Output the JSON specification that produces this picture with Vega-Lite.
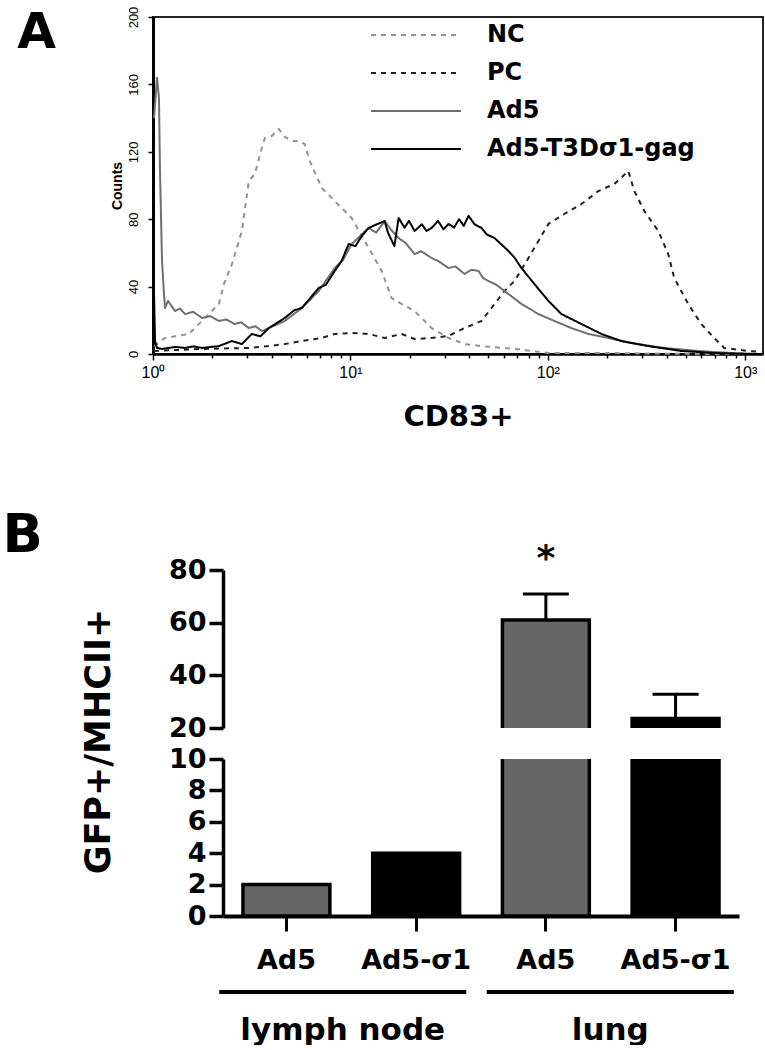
{
  "$schema": "https://vega.github.io/schema/vega-lite/v6.json",
  "padding": {"left": 2, "top": 5, "right": 0, "bottom": 0},
  "bounds": "flush",
  "spacing": 31,
  "config": {
    "view": {"stroke": null},
    "axis": {"grid": false, "domainColor": "#000", "tickColor": "#000", "labelColor": "#000", "titleColor": "#000"}
  },
  "datasets": {
    "hist": [
      {"s":"NC","x":1.012,"y":4.7},{"s":"NC","x":1.15,"y":9.5},{"s":"NC","x":1.521,"y":11.9},{"s":"NC","x":1.833,"y":21.4},{"s":"NC","x":2.157,"y":29.7},{"s":"NC","x":2.287,"y":41.5},{"s":"NC","x":2.51,"y":53.4},{"s":"NC","x":2.819,"y":73.0},{"s":"NC","x":3.06,"y":102.7},{"s":"NC","x":3.281,"y":106.8},{"s":"NC","x":3.559,"y":122.3},{"s":"NC","x":3.686,"y":128.2},{"s":"NC","x":3.999,"y":129.4},{"s":"NC","x":4.338,"y":133.5},{"s":"NC","x":4.654,"y":128.8},{"s":"NC","x":5.048,"y":126.4},{"s":"NC","x":5.477,"y":126.4},{"s":"NC","x":5.873,"y":124.6},{"s":"NC","x":6.226,"y":114.5},{"s":"NC","x":7.159,"y":98.5},{"s":"NC","x":8.328,"y":90.8},{"s":"NC","x":10.15,"y":80.7},{"s":"NC","x":12.38,"y":62.9},{"s":"NC","x":14.4,"y":49.3},{"s":"NC","x":16.18,"y":33.2},{"s":"NC","x":18.17,"y":29.7},{"s":"NC","x":21.15,"y":25.5},{"s":"NC","x":25.78,"y":15.4},{"s":"NC","x":31.42,"y":9.5},{"s":"NC","x":37.86,"y":5.9},{"s":"NC","x":46.15,"y":4.7},{"s":"NC","x":67.78,"y":3.0},{"s":"NC","x":100.7,"y":0.6},{"s":"NC","x":186.7,"y":0.6},{"s":"NC","x":598.4,"y":0},{"s":"NC","x":1204,"y":0},
      {"s":"PC","x":1.012,"y":1.8},{"s":"PC","x":1.77,"y":3.0},{"s":"PC","x":3.06,"y":3.6},{"s":"PC","x":3.862,"y":4.7},{"s":"PC","x":4.654,"y":5.9},{"s":"PC","x":5.672,"y":7.7},{"s":"PC","x":7.159,"y":9.5},{"s":"PC","x":8.328,"y":11.9},{"s":"PC","x":10.15,"y":12.5},{"s":"PC","x":12.38,"y":11.9},{"s":"PC","x":14.91,"y":9.5},{"s":"PC","x":18.17,"y":11.9},{"s":"PC","x":21.15,"y":8.9},{"s":"PC","x":25.78,"y":9.5},{"s":"PC","x":31.42,"y":10.7},{"s":"PC","x":37.86,"y":15.4},{"s":"PC","x":46.15,"y":19.6},{"s":"PC","x":51.84,"y":27.3},{"s":"PC","x":60.31,"y":37.4},{"s":"PC","x":67.78,"y":43.3},{"s":"PC","x":79.78,"y":57.0},{"s":"PC","x":89.62,"y":67.1},{"s":"PC","x":100.7,"y":77.2},{"s":"PC","x":121.3,"y":83.1},{"s":"PC","x":147.9,"y":89.0},{"s":"PC","x":180.3,"y":96.7},{"s":"PC","x":217.2,"y":100.9},{"s":"PC","x":255.7,"y":108.6},{"s":"PC","x":274.2,"y":96.7},{"s":"PC","x":308.0,"y":84.9},{"s":"PC","x":362.6,"y":73.0},{"s":"PC","x":407.4,"y":59.3},{"s":"PC","x":436.9,"y":45.1},{"s":"PC","x":514.3,"y":29.7},{"s":"PC","x":598.4,"y":17.8},{"s":"PC","x":696.1,"y":9.5},{"s":"PC","x":782.1,"y":3.6},{"s":"PC","x":1034,"y":1.8},{"s":"PC","x":1204,"y":1.2},
      {"s":"Ad5","x":1.012,"y":140},{"s":"Ad5","x":1.048,"y":164},{"s":"Ad5","x":1.072,"y":152},{"s":"Ad5","x":1.085,"y":108.6},{"s":"Ad5","x":1.111,"y":55.2},{"s":"Ad5","x":1.137,"y":35.6},{"s":"Ad5","x":1.15,"y":27.3},{"s":"Ad5","x":1.191,"y":31.5},{"s":"Ad5","x":1.292,"y":25.5},{"s":"Ad5","x":1.37,"y":27},{"s":"Ad5","x":1.452,"y":23.7},{"s":"Ad5","x":1.6,"y":25},{"s":"Ad5","x":1.77,"y":21.4},{"s":"Ad5","x":1.95,"y":22.5},{"s":"Ad5","x":2.157,"y":19.6},{"s":"Ad5","x":2.35,"y":20.5},{"s":"Ad5","x":2.599,"y":17.8},{"s":"Ad5","x":2.8,"y":18.8},{"s":"Ad5","x":3.06,"y":15.4},{"s":"Ad5","x":3.3,"y":16.5},{"s":"Ad5","x":3.559,"y":13.6},{"s":"Ad5","x":3.862,"y":15.4},{"s":"Ad5","x":4.654,"y":19.6},{"s":"Ad5","x":5.672,"y":27.3},{"s":"Ad5","x":6.914,"y":37.4},{"s":"Ad5","x":8.328,"y":51.0},{"s":"Ad5","x":9.2,"y":56},{"s":"Ad5","x":10.15,"y":65.3},{"s":"Ad5","x":11.2,"y":70},{"s":"Ad5","x":12.38,"y":74.8},{"s":"Ad5","x":13.5,"y":72},{"s":"Ad5","x":14.91,"y":78.9},{"s":"Ad5","x":16.0,"y":74},{"s":"Ad5","x":17.55,"y":68.8},{"s":"Ad5","x":19.0,"y":66},{"s":"Ad5","x":21.15,"y":59.3},{"s":"Ad5","x":22.8,"y":61},{"s":"Ad5","x":25.78,"y":57.0},{"s":"Ad5","x":28.0,"y":55},{"s":"Ad5","x":31.42,"y":51.0},{"s":"Ad5","x":34.0,"y":52},{"s":"Ad5","x":37.86,"y":47.5},{"s":"Ad5","x":41.0,"y":50},{"s":"Ad5","x":44.57,"y":49.3},{"s":"Ad5","x":47.0,"y":45},{"s":"Ad5","x":50.06,"y":43.3},{"s":"Ad5","x":55.0,"y":41},{"s":"Ad5","x":60.31,"y":37.4},{"s":"Ad5","x":73.53,"y":29.7},{"s":"Ad5","x":89.62,"y":23.7},{"s":"Ad5","x":108.0,"y":19.6},{"s":"Ad5","x":131.6,"y":15.4},{"s":"Ad5","x":160.5,"y":11.9},{"s":"Ad5","x":202.6,"y":9.5},{"s":"Ad5","x":264.7,"y":6.5},{"s":"Ad5","x":388.9,"y":3.6},{"s":"Ad5","x":578.0,"y":1.8},{"s":"Ad5","x":848.7,"y":0.6},{"s":"Ad5","x":1204,"y":0},
      {"s":"Ad5-T3Dσ1-gag","x":1.0,"y":0},{"s":"Ad5-T3Dσ1-gag","x":1.012,"y":35.6},{"s":"Ad5-T3Dσ1-gag","x":1.024,"y":7.7},{"s":"Ad5-T3Dσ1-gag","x":1.048,"y":3.6},{"s":"Ad5-T3Dσ1-gag","x":1.111,"y":3.0},{"s":"Ad5-T3Dσ1-gag","x":1.3,"y":4.2},{"s":"Ad5-T3Dσ1-gag","x":1.452,"y":3.6},{"s":"Ad5-T3Dσ1-gag","x":1.6,"y":4.5},{"s":"Ad5-T3Dσ1-gag","x":1.77,"y":3.6},{"s":"Ad5-T3Dσ1-gag","x":2.157,"y":4.7},{"s":"Ad5-T3Dσ1-gag","x":2.51,"y":7.7},{"s":"Ad5-T3Dσ1-gag","x":2.819,"y":5.9},{"s":"Ad5-T3Dσ1-gag","x":3.168,"y":11.9},{"s":"Ad5-T3Dσ1-gag","x":3.5,"y":10.5},{"s":"Ad5-T3Dσ1-gag","x":3.862,"y":15.4},{"s":"Ad5-T3Dσ1-gag","x":4.654,"y":21.4},{"s":"Ad5-T3Dσ1-gag","x":5.2,"y":26},{"s":"Ad5-T3Dσ1-gag","x":5.672,"y":27.3},{"s":"Ad5-T3Dσ1-gag","x":6.914,"y":39.2},{"s":"Ad5-T3Dσ1-gag","x":7.5,"y":41},{"s":"Ad5-T3Dσ1-gag","x":8.328,"y":49.3},{"s":"Ad5-T3Dσ1-gag","x":9.0,"y":55},{"s":"Ad5-T3Dσ1-gag","x":9.804,"y":65.3},{"s":"Ad5-T3Dσ1-gag","x":10.6,"y":64},{"s":"Ad5-T3Dσ1-gag","x":11.4,"y":70},{"s":"Ad5-T3Dσ1-gag","x":12.38,"y":74.8},{"s":"Ad5-T3Dσ1-gag","x":13.6,"y":77},{"s":"Ad5-T3Dσ1-gag","x":14.91,"y":78.9},{"s":"Ad5-T3Dσ1-gag","x":15.5,"y":72},{"s":"Ad5-T3Dσ1-gag","x":16.7,"y":64},{"s":"Ad5-T3Dσ1-gag","x":17.55,"y":80.7},{"s":"Ad5-T3Dσ1-gag","x":18.8,"y":75},{"s":"Ad5-T3Dσ1-gag","x":19.8,"y":79},{"s":"Ad5-T3Dσ1-gag","x":21.15,"y":73.0},{"s":"Ad5-T3Dσ1-gag","x":23.0,"y":77},{"s":"Ad5-T3Dσ1-gag","x":24.3,"y":73},{"s":"Ad5-T3Dσ1-gag","x":25.78,"y":74.8},{"s":"Ad5-T3Dσ1-gag","x":27.8,"y":79},{"s":"Ad5-T3Dσ1-gag","x":29.6,"y":74},{"s":"Ad5-T3Dσ1-gag","x":31.42,"y":77.2},{"s":"Ad5-T3Dσ1-gag","x":33.5,"y":75},{"s":"Ad5-T3Dσ1-gag","x":35.5,"y":80},{"s":"Ad5-T3Dσ1-gag","x":37.5,"y":76},{"s":"Ad5-T3Dσ1-gag","x":39.67,"y":82},{"s":"Ad5-T3Dσ1-gag","x":42.5,"y":77},{"s":"Ad5-T3Dσ1-gag","x":46.15,"y":74.8},{"s":"Ad5-T3Dσ1-gag","x":49.0,"y":71},{"s":"Ad5-T3Dσ1-gag","x":53.7,"y":68.8},{"s":"Ad5-T3Dσ1-gag","x":57.0,"y":66},{"s":"Ad5-T3Dσ1-gag","x":63.19,"y":61.1},{"s":"Ad5-T3Dσ1-gag","x":68.0,"y":57},{"s":"Ad5-T3Dσ1-gag","x":73.53,"y":51.0},{"s":"Ad5-T3Dσ1-gag","x":85.53,"y":41.5},{"s":"Ad5-T3Dσ1-gag","x":100.7,"y":31.5},{"s":"Ad5-T3Dσ1-gag","x":117.2,"y":23.7},{"s":"Ad5-T3Dσ1-gag","x":147.9,"y":17.8},{"s":"Ad5-T3Dσ1-gag","x":186.7,"y":11.9},{"s":"Ad5-T3Dσ1-gag","x":235.6,"y":7.7},{"s":"Ad5-T3Dσ1-gag","x":322.7,"y":4.7},{"s":"Ad5-T3Dσ1-gag","x":474.1,"y":1.8},{"s":"Ad5-T3Dσ1-gag","x":696.1,"y":0.6},{"s":"Ad5-T3Dσ1-gag","x":1034,"y":0},{"s":"Ad5-T3Dσ1-gag","x":1204,"y":0}
    ],
    "bars": [
      {"key":"lymph node|Ad5","group":"lymph node","virus":"Ad5","value":2,"upper":null,"sig":""},
      {"key":"lymph node|Ad5-σ1","group":"lymph node","virus":"Ad5-σ1","value":4,"upper":null,"sig":""},
      {"key":"lung|Ad5","group":"lung","virus":"Ad5","value":61,"upper":70.9,"sig":"*"},
      {"key":"lung|Ad5-σ1","group":"lung","virus":"Ad5-σ1","value":23.6,"upper":32.8,"sig":""}
    ],
    "groups": [{"group":"lymph node"},{"group":"lung"}]
  },
  "vconcat": [
    {
      "width": 610,
      "height": 337,
      "view": {"stroke": "#222", "strokeWidth": 2},
      "title": {"text": "A", "orient": "left", "anchor": "end", "frame": "group", "angle": 0, "offset": 54, "align": "left", "baseline": "alphabetic", "dy": 31, "font": "DejaVu Sans", "fontSize": 50, "fontWeight": "bold", "color": "#000"},
      "data": {"name": "hist"},
      "mark": {"type": "line", "strokeJoin": "round"},
      "encoding": {
        "x": {
          "field": "x", "type": "quantitative",
          "scale": {"type": "log", "domain": [1, 1230], "nice": false},
          "axis": {
            "values": [1,2,3,4,5,6,7,8,9,10,20,30,40,50,60,70,80,90,100,200,300,400,500,600,700,800,900,1000],
            "labelExpr": "datum.value == 1 ? '10⁰' : datum.value == 10 ? '10¹' : datum.value == 100 ? '10²' : datum.value == 1000 ? '10³' : ''",
            "labelFlush": false, "labelOverlap": false,
            "tickSize": {"condition": {"test": "datum.value == 1 || datum.value == 10 || datum.value == 100 || datum.value == 1000", "value": 6}, "value": 4},
            "tickWidth": 1.5, "domainWidth": 2.5,
            "labelFont": "Liberation Sans", "labelFontSize": 16, "labelPadding": 4,
            "title": "CD83+", "titleFont": "DejaVu Sans", "titleFontSize": 29, "titleFontWeight": "bold", "titlePadding": 22
          }
        },
        "y": {
          "field": "y", "type": "quantitative",
          "scale": {"domain": [0, 200], "nice": false},
          "axis": {
            "values": [0,40,80,120,160,200], "labelAngle": 270, "labelOverlap": false,
            "labelFont": "Liberation Sans", "labelFontSize": 13, "labelPadding": 8,
            "tickSize": 5, "tickWidth": 1.5, "domainWidth": 3,
            "title": "Counts", "titleFont": "Liberation Sans", "titleFontSize": 14, "titleFontWeight": "bold", "titlePadding": 3
          }
        },
        "color": {
          "field": "s", "type": "nominal",
          "scale": {"domain": ["NC","PC","Ad5","Ad5-T3Dσ1-gag"], "range": ["#929292","#222222","#707070","#000000"]},
          "legend": {"title": null, "orient": "none", "legendX": 247, "legendY": 2, "symbolType": "M-3,0H3", "symbolSize": 900, "labelFont": "DejaVu Sans", "labelFontWeight": "bold", "labelFontSize": 24, "labelColor": "#000", "labelOffset": 55, "labelLimit": 400, "rowPadding": 10, "padding": 0}
        },
        "strokeDash": {
          "field": "s", "type": "nominal",
          "scale": {"domain": ["NC","PC","Ad5","Ad5-T3Dσ1-gag"], "range": [[5,5],[5,5],[1,0],[1,0]]}
        },
        "strokeWidth": {
          "field": "s", "type": "nominal",
          "scale": {"domain": ["NC","PC","Ad5","Ad5-T3Dσ1-gag"], "range": [2,2,3,3.5]}
        }
      }
    },
    {
      "width": 20,
      "height": 154,
      "title": {"text": "B", "orient": "left", "anchor": "end", "frame": "group", "angle": 0, "offset": 110, "align": "left", "baseline": "alphabetic", "dy": 167, "font": "DejaVu Sans", "fontSize": 53, "fontWeight": "bold", "color": "#000"},
      "data": {"values": [{}]},
      "mark": {"type": "point", "opacity": 0}
    },
    {
      "width": 586,
      "height": 158,
      "data": {"name": "bars"},
      "encoding": {
        "x": {"field": "key", "type": "nominal", "sort": null,
          "scale": {"domain": ["lymph node|Ad5","lymph node|Ad5-σ1","lung|Ad5","lung|Ad5-σ1"], "range": [70, 586], "paddingInner": 0.33, "paddingOuter": 0.154},
          "axis": null}
      },
      "layer": [
        {
          "mark": {"type": "bar", "clip": true, "stroke": "#000", "strokeWidth": 3.5},
          "encoding": {
            "y": {"field": "value", "type": "quantitative", "scale": {"domain": [20, 80], "nice": false, "zero": false},
              "axis": {"values": [20,40,60,80], "offset": -70, "title": null, "domainWidth": 3.5, "tickWidth": 3.5, "tickSize": 14, "labelOverlap": false,
                "labelFont": "DejaVu Sans", "labelFontWeight": "bold", "labelFontSize": 27, "labelPadding": 3}},
            "y2": {"datum": 0},
            "fill": {"field": "virus", "type": "nominal", "scale": {"domain": ["Ad5","Ad5-σ1"], "range": ["#666666","#000000"]}, "legend": null}
          }
        },
        {
          "mark": {"type": "rule", "strokeWidth": 3, "color": "#000"},
          "encoding": {"y": {"field": "upper", "type": "quantitative"}, "y2": {"field": "value"}}
        },
        {
          "mark": {"type": "tick", "orient": "horizontal", "size": 46, "thickness": 3, "color": "#000", "opacity": 1},
          "encoding": {"y": {"field": "upper", "type": "quantitative"}}
        },
        {
          "mark": {"type": "text", "baseline": "alphabetic", "dy": -24, "fontSize": 36, "fontWeight": "bold", "font": "DejaVu Sans", "color": "#000"},
          "encoding": {"y": {"field": "upper", "type": "quantitative"}, "text": {"field": "sig"}}
        }
      ]
    },
    {
      "width": 586,
      "height": 157,
      "layer": [
        {
          "data": {"name": "bars"},
          "mark": {"type": "bar", "clip": true, "stroke": "#000", "strokeWidth": 3.5},
          "encoding": {
            "x": {"field": "key", "type": "nominal", "sort": null,
              "scale": {"domain": ["lymph node|Ad5","lymph node|Ad5-σ1","lung|Ad5","lung|Ad5-σ1"], "range": [70, 586], "paddingInner": 0.33, "paddingOuter": 0.154},
              "axis": {"labelExpr": "split(datum.label, '|')[1]", "title": null, "domainWidth": 4, "tickWidth": 3, "tickSize": 15,
                "labelFont": "DejaVu Sans", "labelFontWeight": "bold", "labelFontSize": 27, "labelPadding": 16, "labelAngle": 0, "labelLimit": 400}},
            "y": {"field": "value", "type": "quantitative", "scale": {"domain": [0, 10], "nice": false},
              "axis": {"values": [0,2,4,6,8,10], "offset": -70, "domainWidth": 3.5, "tickWidth": 3.5, "tickSize": 14, "labelOverlap": false,
                "labelFont": "DejaVu Sans", "labelFontWeight": "bold", "labelFontSize": 27, "labelPadding": 3,
                "title": "GFP+/MHCII+", "titleFont": "DejaVu Sans", "titleFontWeight": "bold", "titleFontSize": 35,
                "titleAngle": 270, "titleAlign": "center", "titleBaseline": "alphabetic", "titleX": -114, "titleY": -18}},
            "fill": {"field": "virus", "type": "nominal", "scale": {"domain": ["Ad5","Ad5-σ1"], "range": ["#666666","#000000"]}, "legend": null}
          }
        },
        {
          "data": {"name": "groups"},
          "mark": {"type": "tick", "orient": "horizontal", "size": 247, "thickness": 4, "color": "#000", "opacity": 1, "yOffset": 76},
          "encoding": {
            "x": {"field": "group", "type": "nominal", "sort": null,
              "scale": {"domain": ["lymph node","lung"], "range": [66, 581], "paddingInner": 0.075, "paddingOuter": 0},
              "axis": {"orient": "bottom", "title": null, "domain": false, "ticks": false, "tickSize": 0,
                "labelFont": "DejaVu Sans", "labelFontWeight": "bold", "labelFontSize": 31, "labelPadding": 99, "labelAngle": 0, "labelLimit": 400}},
            "y": {"datum": 0,
              "axis": {"values": [0,2,4,6,8,10], "offset": -70, "domainWidth": 3.5, "tickWidth": 3.5, "tickSize": 14, "labelOverlap": false,
                "labelFont": "DejaVu Sans", "labelFontWeight": "bold", "labelFontSize": 27, "labelPadding": 3,
                "title": "GFP+/MHCII+", "titleFont": "DejaVu Sans", "titleFontWeight": "bold", "titleFontSize": 35,
                "titleAngle": 270, "titleAlign": "center", "titleBaseline": "alphabetic", "titleX": -114, "titleY": -18}}
          }
        }
      ],
      "resolve": {"scale": {"x": "independent"}, "axis": {"x": "independent"}}
    }
  ]
}
